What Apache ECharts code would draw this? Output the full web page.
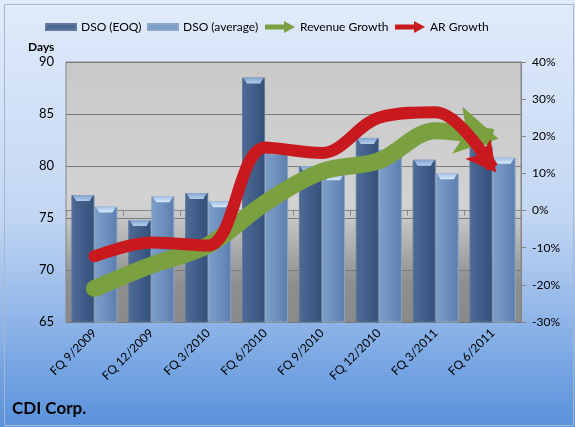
<!DOCTYPE html>
<html>
<head>
<meta charset="utf-8">
<script src="https://cdn.jsdelivr.net/npm/echarts@6/dist/echarts.min.js"></script>
<style>
html, body { margin: 0; padding: 0; background: #fff; }
#main { width: 575px; height: 427px; }
</style>
</head>
<body>
<div id="main"></div>
<script>
// data
var categories = ['FQ 9/2009', 'FQ 12/2009', 'FQ 3/2010', 'FQ 6/2010', 'FQ 9/2010', 'FQ 12/2010', 'FQ 3/2011', 'FQ 6/2011'];
var dsoEoq = [77.2, 74.8, 77.4, 88.5, 80.0, 82.7, 80.6, 81.9];
var dsoAvg = [76.1, 77.1, 76.6, 81.7, 79.2, 81.6, 79.3, 80.8];
var revenueGrowth = [-21, -14.7, -9.3, 2, 10.5, 13.4, 21.5, 19.7];   // %
var arGrowth = [-12.3, -8.6, -9.4, 17, 15.5, 25, 26.5, 11.5];        // %
var daysTicks = {min: 65, max: 90, interval: 5};
var pctTicks = {min: -30, max: 40, interval: 10};
var legendNames = ['DSO (EOQ)', 'DSO (average)', 'Revenue Growth', 'AR Growth'];

var font = 'Lato, "Open Sans", sans-serif';
var GREEN = '#7aa040';
var RED = '#c81a1e';

// arrow head pointing right, notched at the back
var arrowHead = 'path://M0,0 L10,5 L0,10 L2.2,5 Z';
// light bevel on top of each bar
var bevel = 'path://M0,0 L10,0 L8.2,3 L1.8,3 Z';

// first point gets a round start, last point carries the arrow head
function growthData(values, color, width, head, angle) {
	return values.map(function(v, i) {
		if (i === 0) {
			return {value: v, symbol: 'circle', symbolSize: width, itemStyle: {color: color}};
		}
		if (i < values.length - 1) return v;
		var rad = angle * Math.PI / 180;
		var back = head[0] / 2 - 6;
		return {
			value: v,
			symbol: arrowHead,
			symbolSize: head,
			symbolRotate: -angle,
			symbolOffset: [-back * Math.cos(rad), -back * Math.sin(rad)],
			itemStyle: {color: color}
		};
	});
}

var barGrad = function(c1, c2, c3) {
	return new echarts.graphic.LinearGradient(0, 0, 1, 0, [
		{offset: 0, color: c1}, {offset: 0.5, color: c2}, {offset: 1, color: c3}
	]);
};
var bevelGrad = function(c1, c2) {
	return new echarts.graphic.LinearGradient(0, 0, 0, 1, [
		{offset: 0, color: c1}, {offset: 1, color: c2}
	]);
};

var axisGray = '#868686';
var barIcon = 'path://M0,0 L30,0 L30,6 L0,6 Z';
var arrowIcon = 'path://M0,3.5 L19,3.5 L19,0 L30,6 L19,12 L19,8.5 L0,8.5 Z';

function legendAt(left, name, icon, color) {
	return {
		left: left,
		top: 21,
		padding: 0,
		itemWidth: 30,
		itemHeight: 12,
		itemGap: 0,
		textStyle: {fontSize: 12, color: '#000', fontFamily: font},
		data: [{name: name, icon: icon, itemStyle: {color: color}}]
	};
}

var option = {
	animation: false,
	backgroundColor: new echarts.graphic.LinearGradient(0, 0, 0, 1, [
		{offset: 0, color: '#e1ebfb'},
		{offset: 0.5, color: '#c3d7f3'},
		{offset: 1, color: '#5a92dc'}
	]),
	textStyle: {fontFamily: font},
	title: {
		text: 'CDI Corp.',
		left: 12,
		top: 400,
		padding: 0,
		textStyle: {fontSize: 17, fontWeight: 'bold', color: '#000', fontFamily: font}
	},
	graphic: [
		{type: 'rect', left: 2, top: 2, shape: {width: 569, height: 421}, style: {fill: 'none', stroke: '#a6b6cc', lineWidth: 1}, silent: true},
		{type: 'text', left: 28, top: 41, style: {text: 'Days', font: 'bold 12px ' + font, fill: '#000'}}
	],
	legend: [
		legendAt(45, legendNames[0], barIcon, '#4a6892'),
		legendAt(147, legendNames[1], barIcon, '#7c9dc9'),
		legendAt(265, legendNames[2], arrowIcon, GREEN),
		legendAt(395, legendNames[3], arrowIcon, RED)
	],
	grid: {
		left: 66, right: 54, top: 62, bottom: 105,
		show: true,
		borderColor: axisGray,
		borderWidth: 1,
		backgroundColor: new echarts.graphic.LinearGradient(0, 0, 0, 1, [
			{offset: 0, color: '#c9c9c9'},
			{offset: 0.55, color: '#d2d2d2'},
			{offset: 0.85, color: '#8e8e8e'},
			{offset: 1, color: '#8a8a8a'}
		])
	},
	xAxis: {
		type: 'category',
		data: categories,
		axisLine: {lineStyle: {color: axisGray}},
		axisTick: {show: true, length: 5, lineStyle: {color: axisGray}},
		axisLabel: {rotate: 45, fontSize: 12, color: '#000', margin: 9, interval: 0}
	},
	yAxis: [{
		type: 'value',
		min: daysTicks.min, max: daysTicks.max, interval: daysTicks.interval,
		axisLine: {show: false},
		axisTick: {show: false},
		axisLabel: {fontSize: 13, color: '#000', margin: 12},
		splitLine: {lineStyle: {color: '#7a7a7a', width: 1}}
	}, {
		type: 'value',
		min: pctTicks.min, max: pctTicks.max, interval: pctTicks.interval,
		axisLine: {show: true, lineStyle: {color: axisGray}},
		axisTick: {show: true, length: 5, lineStyle: {color: axisGray}},
		axisLabel: {fontSize: 12, color: '#000', margin: 11, formatter: '{value}%'},
		splitLine: {show: false}
	}],
	series: [{
		name: legendNames[0],
		type: 'bar',
		data: dsoEoq,
		barGap: '0%',
		barCategoryGap: '19%',
		itemStyle: {color: barGrad('#4d6b95', '#405e89', '#34507a'), borderColor: '#62799c', borderWidth: 1}
	}, {
		name: legendNames[1],
		type: 'bar',
		data: dsoAvg,
		barGap: '0%',
		barCategoryGap: '19%',
		itemStyle: {color: barGrad('#7c9ec9', '#6d90be', '#5b7dab'), borderColor: '#8ea6c6', borderWidth: 1}
	}, {
		name: 'eoq-bevel',
		type: 'pictorialBar',
		data: dsoEoq,
		barGap: '0%',
		barCategoryGap: '19%',
		symbol: bevel,
		symbolPosition: 'end',
		symbolSize: ['90%', 6],
		z: 3,
		itemStyle: {color: bevelGrad('#85a3cc', '#b3cdec')}
	}, {
		name: 'avg-bevel',
		type: 'pictorialBar',
		data: dsoAvg,
		barGap: '0%',
		barCategoryGap: '19%',
		symbol: bevel,
		symbolPosition: 'end',
		symbolSize: ['90%', 6],
		z: 3,
		itemStyle: {color: bevelGrad('#a4c0e4', '#d6e8f9')}
	}, {
		name: legendNames[2],
		type: 'line',
		yAxisIndex: 1,
		smooth: 0.35,
		symbol: 'none',
		z: 4,
		color: GREEN,
		lineStyle: {width: 17, color: GREEN, cap: 'butt'},
		data: growthData(revenueGrowth, GREEN, 17, [42, 48], 12)
	}, {
		name: legendNames[3],
		type: 'line',
		yAxisIndex: 1,
		smooth: 0.35,
		symbol: 'none',
		z: 5,
		color: RED,
		lineStyle: {width: 12, color: RED, cap: 'butt'},
		data: growthData(arGrowth, RED, 12, [30, 32], 52)
	}]
};

var myChart = echarts.init(document.getElementById('main'));
myChart.setOption(option);
</script>
</body>
</html>
